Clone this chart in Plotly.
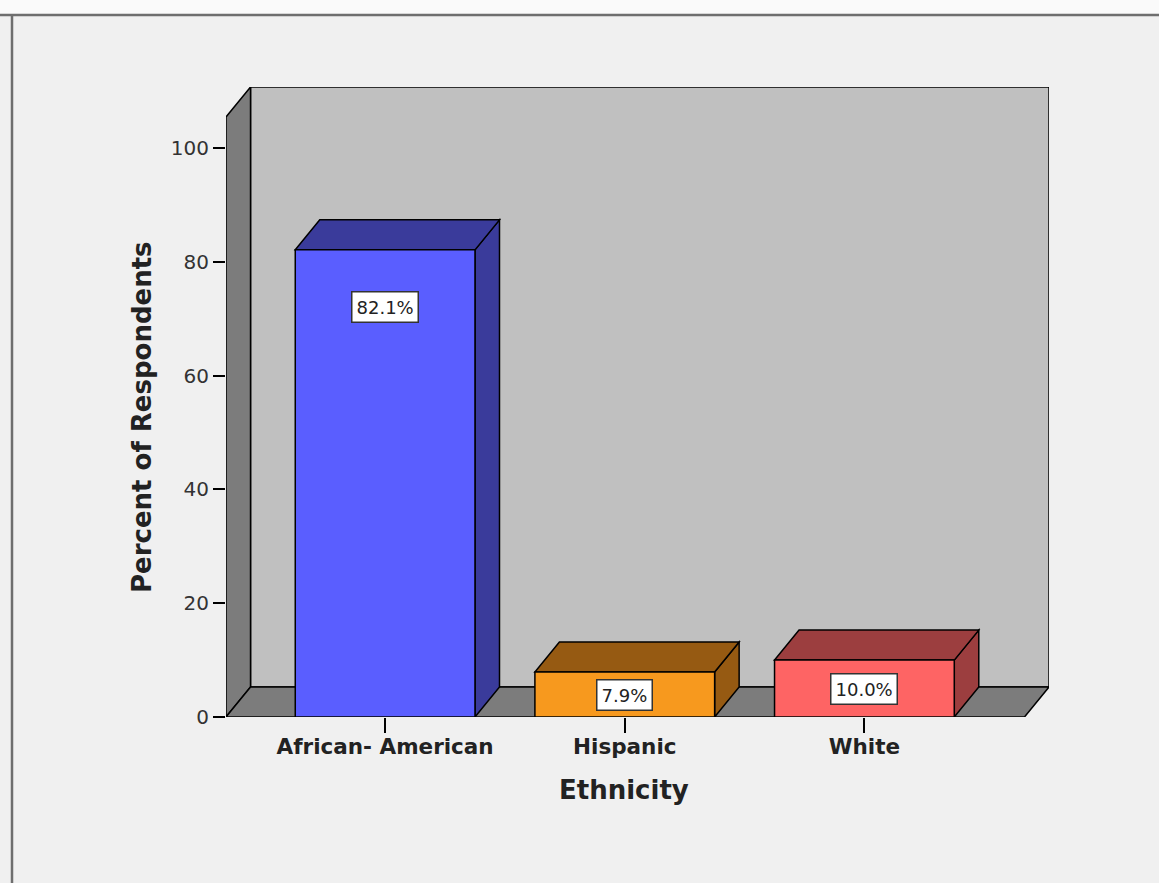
import plotly.graph_objects as go

# Share of respondents by ethnicity
categories = ["African- American", "Hispanic", "White"]
percents = [82.1, 7.9, 10.0]
value_labels = ["82.1%", "7.9%", "10.0%"]
y_ticks = [0, 20, 40, 60, 80, 100]

front_colors = ["#5a5eff", "#f7991e", "#fe6464"]
shade_colors = ["#3a3b9b", "#965a12", "#9c3e3f"]

# pseudo-3D geometry (in axis units)
BAR_W = 0.75
DX, DY = 0.1023, 5.27          # depth offset of the back plane
X_LEFT, X_RIGHT = -0.664, 2.668
WALL_TOP = 105.45
Y_MAX = WALL_TOP + DY

def poly(pts):
    return "M " + " L ".join(f"{x},{y}" for x, y in pts) + " Z"

shapes = []
line = dict(color="black", width=1.5)

# back wall
shapes.append(dict(type="path", xref="x", yref="y", layer="below",
                   path=poly([(X_LEFT + DX, DY), (X_RIGHT + DX, DY),
                              (X_RIGHT + DX, Y_MAX), (X_LEFT + DX, Y_MAX)]),
                   fillcolor="#c0c0c0", line=line))
# left wall
shapes.append(dict(type="path", xref="x", yref="y", layer="below",
                   path=poly([(X_LEFT, 0), (X_LEFT, WALL_TOP),
                              (X_LEFT + DX, Y_MAX), (X_LEFT + DX, DY)]),
                   fillcolor="#7c7c7c", line=line))
# floor
shapes.append(dict(type="path", xref="x", yref="y", layer="below",
                   path=poly([(X_LEFT, 0), (X_RIGHT, 0),
                              (X_RIGHT + DX, DY), (X_LEFT + DX, DY)]),
                   fillcolor="#7c7c7c", line=line))

# bar tops and sides
hw = BAR_W / 2
for i, v in enumerate(percents):
    shapes.append(dict(type="path", xref="x", yref="y", layer="below",
                       path=poly([(i + hw, 0), (i + hw, v),
                                  (i + hw + DX, v + DY), (i + hw + DX, DY)]),
                       fillcolor=shade_colors[i], line=line))
    shapes.append(dict(type="path", xref="x", yref="y", layer="below",
                       path=poly([(i - hw, v), (i + hw, v),
                                  (i + hw + DX, v + DY), (i - hw + DX, v + DY)]),
                       fillcolor=shade_colors[i], line=line))

# outer frame
shapes.append(dict(type="rect", xref="paper", yref="paper",
                   x0=-0.4, x1=1.3, y0=1 + 73 / 630, y1=1.3,
                   fillcolor="#fafafa", line=dict(width=0), layer="below"))
shapes.append(dict(type="line", xref="paper", yref="paper",
                   x0=-0.4, x1=1.3, y0=1 + 72 / 630, y1=1 + 72 / 630,
                   line=dict(color="#6e6e6e", width=2.5)))
shapes.append(dict(type="line", xref="paper", yref="paper",
                   x0=-214 / 823, x1=-214 / 823, y0=1 + 72 / 630, y1=-0.4,
                   line=dict(color="#6e6e6e", width=2.5)))

fig = go.Figure(go.Bar(
    x=list(range(len(categories))), y=percents, width=BAR_W,
    marker=dict(color=front_colors, line=dict(color="black", width=1.5)),
    hoverinfo="skip",
))

annotations = []
for i, v in enumerate(percents):
    annotations.append(dict(
        x=i, y=max(v - 10, v / 2), xref="x", yref="y", text=value_labels[i],
        showarrow=False, bgcolor="white", bordercolor="#333", borderwidth=1.5,
        borderpad=4, font=dict(family="DejaVu Sans", size=18, color="#222"),
    ))
annotations.append(dict(
    x=(624 - 226) / 823, y=(717 - 790) / 630, xref="paper", yref="paper",
    xanchor="center", yanchor="middle",
    text="<b>Ethnicity</b>", showarrow=False,
    font=dict(family="DejaVu Sans", size=26, color="#222"),
))
annotations.append(dict(
    x=(142 - 226) / 823, y=(717 - 417) / 630, xref="paper", yref="paper",
    xanchor="center", yanchor="middle",
    text="<b>Percent of Respondents</b>", textangle=-90, showarrow=False,
    font=dict(family="DejaVu Sans", size=26, color="#222"),
))

fig.update_layout(
    width=1159, height=883,
    margin=dict(l=226, r=110, t=87, b=166),
    paper_bgcolor="#f0f0f0", plot_bgcolor="#f0f0f0",
    showlegend=False, shapes=shapes, annotations=annotations,
    xaxis=dict(range=[X_LEFT, X_RIGHT + DX], tickvals=list(range(len(categories))),
               ticktext=[f"<b>{c}</b>" for c in categories],
               showgrid=False, zeroline=False, showline=False,
               ticks="outside", ticklen=15, tickwidth=1.5, tickcolor="black",
               ticklabelstandoff=-5,
               tickfont=dict(family="DejaVu Sans", size=21.5, color="#222"),
               fixedrange=True),
    yaxis=dict(range=[0, Y_MAX], tickvals=y_ticks,
               showgrid=False, zeroline=False, showline=False,
               ticks="outside", ticklen=12, tickwidth=2, tickcolor="black",
               tickfont=dict(family="DejaVu Sans", size=20, color="#333"),
               fixedrange=True),
)

fig.write_html("out.html")
